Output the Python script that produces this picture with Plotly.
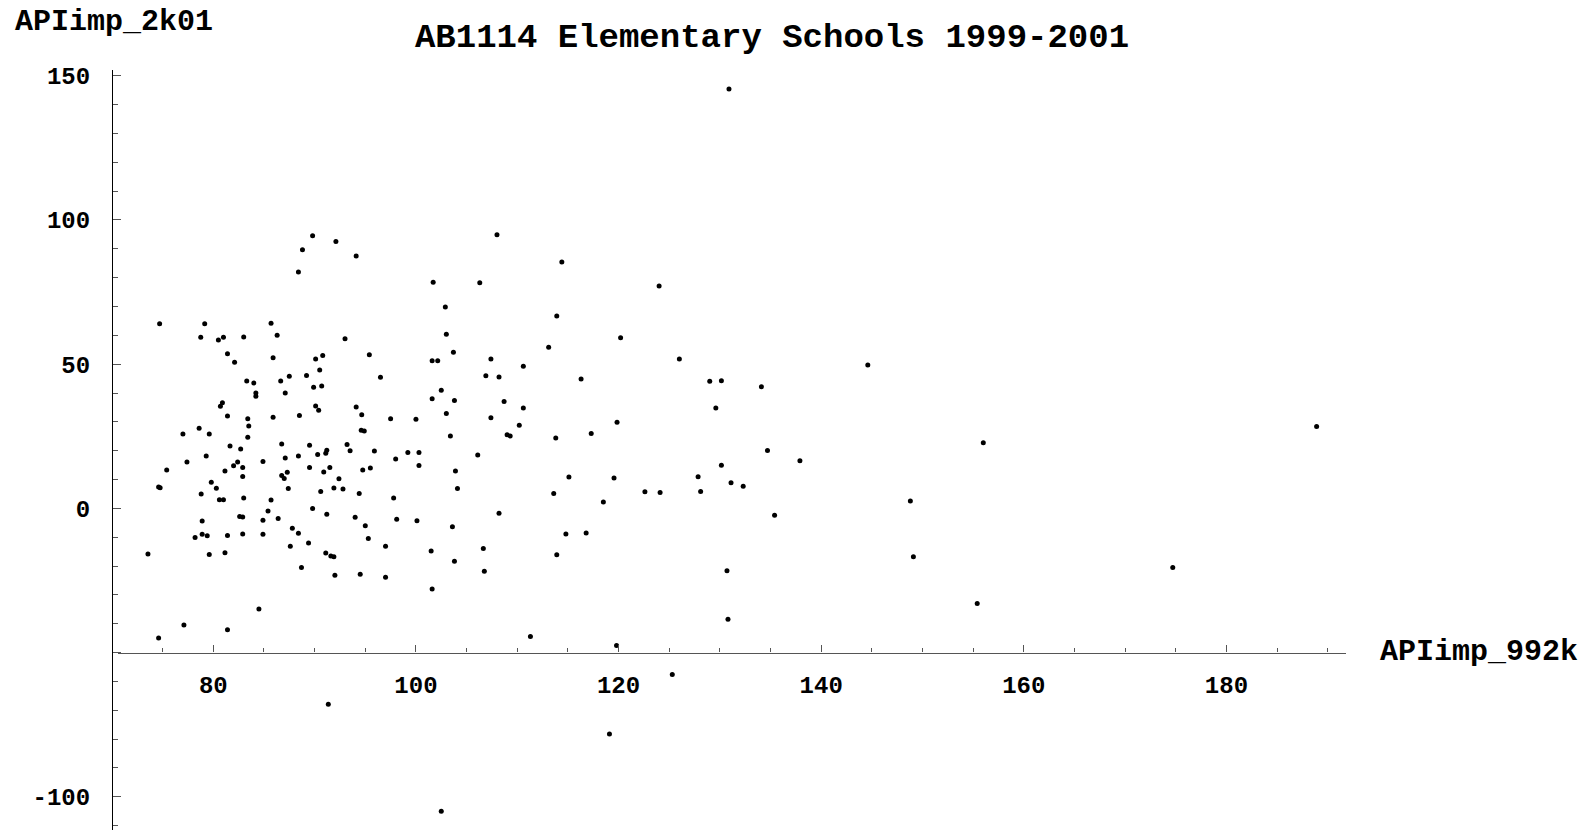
import plotly.graph_objects as go

# ---- data: (APIimp_992k, APIimp_2k01) ----
api_992k = [
    74.7, 79.15, 78.76, 80.5, 81.0, 83.0, 85.7, 86.3, 81.4, 82.1, 85.9, 93.0, 95.4, 96.5,
    90.1, 90.8, 90.5, 89.9, 90.7, 89.2, 87.5, 86.65, 87.1, 83.3, 84.0, 84.2, 84.2, 80.7,
    80.9, 81.4, 83.4, 83.5, 83.4, 85.9, 88.5, 90.1, 90.4, 94.1, 94.65, 97.5, 94.6, 94.9,
    77.0, 78.6, 79.6, 81.65, 82.7, 79.3, 77.4, 75.4, 82.4, 82.0, 82.9, 81.15, 82.9, 74.6,
    74.75, 79.8, 80.3, 78.8, 80.6, 81.0, 83.0, 86.75, 89.5, 87.1, 88.4, 90.3, 91.1, 91.2,
    93.2, 93.5, 95.9, 98.0, 84.9, 86.75, 87.0, 87.3, 87.4, 89.5, 90.9, 91.5, 92.4, 91.9,
    92.8, 94.75, 95.5, 90.6, 94.4, 97.8, 85.7, 85.4, 86.4, 84.9, 82.6, 82.9, 78.9, 89.8,
    91.2, 94.0, 95.0, 98.1, 95.3, 87.8, 88.4, 78.2, 78.9, 79.4, 81.4, 82.9, 84.9, 87.6,
    89.4, 73.55, 79.6, 81.15, 91.1, 91.6, 91.9, 97.0, 88.7, 92.0, 94.5, 97.0,
    108.0, 114.4, 101.7, 106.3, 124.0, 102.9, 113.9, 103.0, 120.2, 113.1, 103.7, 101.6,
    102.15, 107.4, 110.6, 126.0, 106.9, 108.2, 116.3, 102.5, 101.6, 103.8, 108.7, 110.6,
    103.0, 100.0, 107.4, 110.2, 119.85, 103.4, 109.0, 109.3, 113.8, 117.3, 99.2, 100.3,
    100.3, 106.1, 103.9, 104.1, 115.1, 119.55, 113.6, 118.5, 122.6, 124.1, 100.1, 103.6,
    108.2, 114.8, 116.8, 101.5, 106.65, 113.9, 103.8, 106.75,
    129.0, 130.15, 134.1, 144.6, 129.6, 134.7, 137.9, 130.15, 127.85, 128.1, 131.1, 132.3,
    135.4, 148.8, 149.1, 130.7, 130.8,
    88.4, 88.8, 89.8, 92.1, 94.1, 130.9,
    74.6, 77.1, 81.4, 84.5, 101.6, 111.3, 119.8, 125.3, 91.35, 119.1, 102.5,
    156.0, 188.9, 174.7, 155.4,
]
api_2k01 = [
    64.0, 64.0, 59.3, 58.4, 59.3, 59.4, 64.2, 60.0, 53.6, 50.7, 52.2, 58.8, 53.3, 45.5,
    51.8, 53.0, 48.0, 42.0, 42.4, 46.1, 45.8, 44.2, 40.0, 44.2, 43.5, 40.0, 38.9, 35.4,
    36.6, 32.0, 31.1, 28.6, 24.7, 31.6, 32.2, 35.5, 34.0, 35.2, 32.5, 31.1, 27.1, 26.8,
    25.8, 27.8, 25.8, 21.6, 20.6, 18.2, 16.1, 13.3, 16.1, 14.8, 14.2, 13.0, 11.1, 7.4,
    7.2, 9.1, 7.0, 5.0, 3.0, 3.0, 3.6, 22.3, 21.9, 17.5, 18.2, 18.7, 19.1, 20.2,
    22.2, 20.0, 19.9, 17.1, 16.3, 11.4, 10.4, 12.5, 6.9, 14.2, 12.6, 14.2, 10.3, 7.1,
    6.7, 13.3, 14.0, 5.9, 5.2, 3.6, 2.9, -0.9, -3.5, -4.1, -2.8, -3.0, -4.4, 0.0,
    -2.0, -3.1, -6.0, -3.8, -10.4, -6.9, -8.6, -10.1, -9.0, -9.5, -9.4, -8.9, -9.0, -13.1,
    -12.0, -15.8, -16.0, -15.4, -15.5, -16.5, -16.8, -13.1, -20.5, -23.2, -22.8, -23.9,
    94.9, 85.4, 78.4, 78.2, 77.1, 69.8, 66.7, 60.4, 59.2, 55.9, 54.1, 51.2,
    51.2, 51.8, 49.3, 51.8, 46.0, 45.6, 44.9, 41.0, 38.0, 37.4, 37.1, 34.8,
    32.9, 30.9, 31.4, 28.8, 29.9, 25.1, 25.5, 25.1, 24.4, 26.0, 19.4, 19.4,
    14.9, 18.5, 13.0, 6.9, 10.9, 10.5, 5.2, 2.2, 5.8, 5.5, -4.3, -6.4,
    -1.7, -8.9, -8.5, -14.8, -13.9, -16.1, -18.3, -21.8,
    44.1, 44.3, 42.2, 49.7, 34.8, 20.1, 16.5, 15.0, 11.0, 5.9, 8.9, 7.7,
    -2.4, 2.6, -16.8, -21.6, -38.4,
    82.0, 89.7, 94.5, 92.5, 87.5, 145.4,
    -44.9, -40.4, -42.1, -34.9, -27.9, -44.4, -47.5, -57.6, -67.9, -78.2, -105.0,
    22.8, 28.4, -20.5, -33.0,
]

title_text = "AB1114 Elementary Schools 1999-2001"
x_label = "APIimp_992k"
y_label = "APIimp_2k01"

x_major = [80, 100, 120, 140, 160, 180]
x_minor = [75, 85, 90, 95, 105, 110, 115, 125, 130, 135, 145, 150, 155, 165, 170, 175, 185, 190]
y_major = [-100, -50, 0, 50, 100, 150]
y_major_text = ["-100", "", "0", "50", "100", "150"]
y_minor = [v for v in range(-110, 151, 10) if v % 50 != 0]

x_range = [70.6, 191.8]
y_range = [-111.5, 152.0]
x_cross = 70      # where the y axis sits
y_cross = -50     # where the x axis sits

# ---- layout geometry (pixels) ----
W_PX, H_PX = 1593, 834
L, R, T, B = 112, 1346, 70, 830
plot_w, plot_h = R - L, B - T
x_scale = 10.13
dom0 = (x_range[0] - x_cross) * x_scale / plot_w
xaxis_pos = (y_cross - y_range[0]) / (y_range[1] - y_range[0])

FONT = "Liberation Mono, Courier New, Courier, monospace"

fig = go.Figure(
    go.Scatter(
        x=api_992k, y=api_2k01, mode="markers",
        marker=dict(color="black", size=5, line=dict(width=0)),
        cliponaxis=False, hoverinfo="x+y",
    )
)

fig.update_layout(
    width=W_PX, height=H_PX,
    margin=dict(l=L, r=W_PX - R, t=T, b=H_PX - B, pad=0),
    paper_bgcolor="white", plot_bgcolor="white",
    showlegend=False,
    title=dict(
        text=title_text, xref="container", yref="container",
        x=772 / W_PX, y=1 - 35 / H_PX, xanchor="center", yanchor="middle",
        font=dict(family=FONT, size=34, color="black", weight=700),
    ),
    xaxis=dict(
        range=x_range, domain=[dom0, 1], anchor="free", position=xaxis_pos,
        showgrid=False, zeroline=False,
        showline=True, linecolor="#555555", linewidth=1.3,
        tickmode="array", tickvals=x_major, ticktext=[str(v) for v in x_major],
        ticks="inside", ticklen=7, tickwidth=1, tickcolor="#555555",
        minor=dict(tickmode="array", tickvals=x_minor, ticks="inside", ticklen=4,
                   tickwidth=1, tickcolor="#555555", showgrid=False),
        ticklabelstandoff=10,
        tickfont=dict(family=FONT, size=24, color="black", weight=700),
    ),
    yaxis=dict(
        range=y_range, domain=[0, 1], anchor="free", position=0,
        showgrid=False, zeroline=False,
        showline=True, linecolor="black", linewidth=1.2,
        tickmode="array", tickvals=y_major, ticktext=y_major_text,
        ticks="inside", ticklen=8, tickwidth=1, tickcolor="#555555",
        minor=dict(tickmode="array", tickvals=y_minor, ticks="inside", ticklen=5,
                   tickwidth=1, tickcolor="#555555", showgrid=False),
        ticklabelstandoff=17,
        tickfont=dict(family=FONT, size=24, color="black", weight=700),
    ),
)

def px_to_paper_x(px):
    return (px - L) / plot_w

def px_to_paper_y(py):
    return (B - py) / plot_h

fig.add_annotation(
    text=y_label, xref="paper", yref="paper",
    x=px_to_paper_x(13), y=px_to_paper_y(22), xanchor="left", yanchor="middle",
    showarrow=False, font=dict(family=FONT, size=30, color="black", weight=700),
)
fig.add_annotation(
    text=x_label, xref="paper", yref="paper",
    x=px_to_paper_x(1378), y=px_to_paper_y(652), xanchor="left", yanchor="middle",
    showarrow=False, font=dict(family=FONT, size=30, color="black", weight=700),
)

# remove the browser's default 8px body margin so pixel positions match the page
fig.write_html(
    "out.html",
    config={"displayModeBar": False},
    post_script="document.body.style.margin='0';",
)
